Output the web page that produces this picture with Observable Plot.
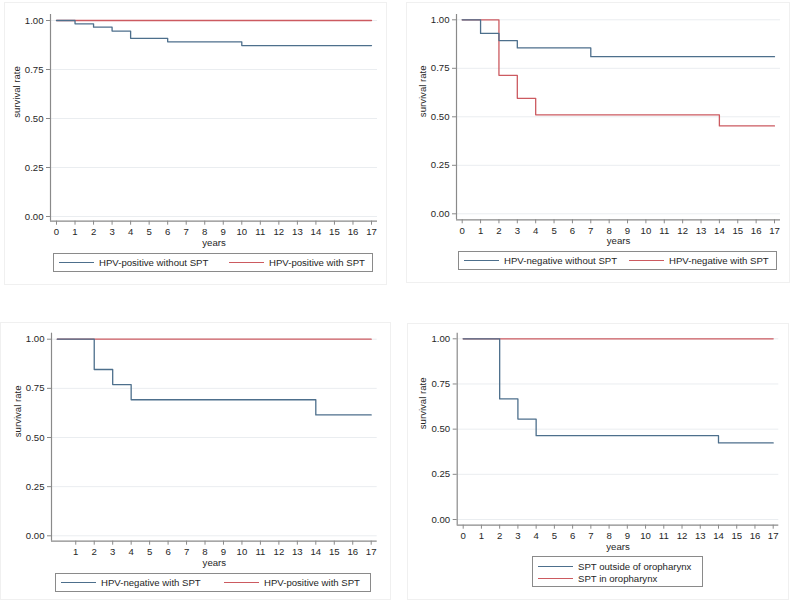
<!DOCTYPE html>
<html>
<head>
<meta charset="utf-8">
<script src="https://cdn.jsdelivr.net/npm/d3@7"></script>
<script src="https://cdn.jsdelivr.net/npm/@observablehq/plot@0.6"></script>
<style>
  html, body { margin: 0; padding: 0; background: #fff; }
  #root { position: relative; width: 791px; height: 605px; overflow: hidden; font-family: "Liberation Sans", Arial, sans-serif; color: #262626; }
  .frame { position: absolute; border: 1px solid #f0f0f0; box-sizing: border-box; }
  .plot { position: absolute; }
  .legend { position: absolute; border: 1px solid #8a8a8a; box-sizing: border-box; background: #fff; font-size: 9.6px; }
  .item { position: absolute; display: flex; align-items: center; white-space: nowrap; }
  .sw { display: inline-block; width: 35px; height: 0; border-top: 1.3px solid; margin-right: 5px; }
</style>
</head>
<body>
<div id="root"></div>
<script>
// ---------- data ----------
const yearTicks = [0,1,2,3,4,5,6,7,8,9,10,11,12,13,14,15,16,17];
const yearTicksNoZero = [1,2,3,4,5,6,7,8,9,10,11,12,13,14,15,16,17];
const rateTicks = [0, 0.25, 0.5, 0.75, 1];

// Panel 1
const hpvPosWithoutSptTime = [0, 1, 2, 3, 4, 6, 10, 17];
const hpvPosWithoutSptSurv = [1, 0.983, 0.966, 0.946, 0.909, 0.891, 0.872, 0.872];
const hpvPosWithSptTime = [0, 17];
const hpvPosWithSptSurv = [1, 1];

// Panel 2
const hpvNegWithoutSptTime = [0, 1, 2, 3, 7, 17];
const hpvNegWithoutSptSurv = [1, 0.930, 0.893, 0.855, 0.810, 0.810];
const hpvNegWithSptTime = [0, 2, 3, 4, 14, 17];
const hpvNegWithSptSurv = [1, 0.714, 0.595, 0.510, 0.453, 0.453];

// Panel 3
const p3NegWithSptTime = [0, 2, 3, 4, 14, 17];
const p3NegWithSptSurv = [1, 0.846, 0.769, 0.692, 0.615, 0.615];
const p3PosWithSptTime = [0, 17];
const p3PosWithSptSurv = [1, 1];

// Panel 4
const sptOutsideTime = [0, 2, 3, 4, 14, 17];
const sptOutsideSurv = [1, 0.667, 0.556, 0.464, 0.424, 0.424];
const sptInTime = [0, 17];
const sptInSurv = [1, 1];

const panelLegends = [
  ["HPV-positive without SPT", "HPV-positive with SPT"],
  ["HPV-negative without SPT", "HPV-negative with SPT"],
  ["HPV-negative with SPT", "HPV-positive with SPT"],
  ["SPT outside of oropharynx", "SPT in oropharynx"]
];

// ---------- styling / layout ----------
const BLUE = "#4d6f8c";
const RED = "#cc5a60";
const AXIS = "#8a8a8a";
const GRID = "#eaedf0";

function series(times, surv) { return times.map((t, i) => ({t, s: surv[i]})); }

const panels = [
  { svg: {left: 0, top: 0, width: 391, height: 250},
    px: {x0: 56, x17: 371, left: 50, right: 377, y1: 20, y0: 216, top: 14, bottom: 220.7},
    xt: yearTicks,
    a: series(hpvPosWithoutSptTime, hpvPosWithoutSptSurv),
    b: series(hpvPosWithSptTime, hpvPosWithSptSurv),
    legend: {left: 53, top: 253, width: 320, height: 19, col2: 175, rows: false},
    frame: {left: 4, top: 2, width: 383, height: 283} },
  { svg: {left: 395, top: 0, width: 396, height: 250},
    px: {x0: 461.7, x17: 774, left: 456, right: 780, y1: 19.3, y0: 213.3, top: 14, bottom: 219.3},
    xt: yearTicks,
    a: series(hpvNegWithoutSptTime, hpvNegWithoutSptSurv),
    b: series(hpvNegWithSptTime, hpvNegWithSptSurv),
    legend: {left: 458, top: 251, width: 319, height: 19, col2: 170, rows: false},
    frame: {left: 406, top: 2, width: 384, height: 281} },
  { svg: {left: 0, top: 300, width: 391, height: 260},
    px: {x0: 56.8, x17: 370.7, left: 51, right: 376.7, y1: 338.7, y0: 535.3, top: 332.7, bottom: 540.7},
    xt: yearTicksNoZero,
    a: series(p3NegWithSptTime, p3NegWithSptSurv),
    b: series(p3PosWithSptTime, p3PosWithSptSurv),
    legend: {left: 55, top: 573, width: 316, height: 19, col2: 168, rows: false},
    frame: {left: 0, top: 322, width: 391, height: 278} },
  { svg: {left: 395, top: 300, width: 396, height: 250},
    px: {x0: 462.7, x17: 772.7, left: 456.7, right: 778.3, y1: 338.3, y0: 519, top: 332.7, bottom: 524.7},
    xt: yearTicks,
    a: series(sptOutsideTime, sptOutsideSurv),
    b: series(sptInTime, sptInSurv),
    legend: {left: 532, top: 556, width: 171, height: 31, col2: 0, rows: true},
    frame: {left: 407, top: 323, width: 382, height: 277} }
];

const root = document.getElementById("root");

panels.forEach((p, idx) => {
  const fr = document.createElement("div");
  fr.className = "frame";
  Object.assign(fr.style, {left: p.frame.left + "px", top: p.frame.top + "px", width: p.frame.width + "px", height: p.frame.height + "px"});
  root.appendChild(fr);

  const s = p.svg, q = p.px;
  const pxPerYear = (q.x17 - q.x0) / 17;
  const xmin = (q.left - q.x0) / pxPerYear;
  const xmax = 17 + (q.right - q.x17) / pxPerYear;
  const pxPerUnit = q.y0 - q.y1;
  const ymax = 1 + (q.y1 - q.top) / pxPerUnit;
  const ymin = -(q.bottom - q.y0) / pxPerUnit;

  const chart = Plot.plot({
    width: s.width,
    height: s.height,
    marginLeft: q.left - s.left,
    marginRight: s.left + s.width - q.right,
    marginTop: q.top - s.top,
    marginBottom: s.top + s.height - q.bottom,
    style: {fontSize: "9.6px", fontFamily: "'Liberation Sans', Arial, sans-serif", color: "#262626", background: "transparent", overflow: "visible"},
    x: {domain: [xmin, xmax], axis: null},
    y: {domain: [ymin, ymax], axis: null},
    marks: [
      Plot.gridY(rateTicks, {stroke: GRID, strokeOpacity: 1}),
      Plot.ruleX([xmin], {stroke: AXIS, strokeWidth: 1.2}),
      Plot.ruleY([ymin], {stroke: AXIS, strokeWidth: 1.2}),
      Plot.axisY(rateTicks, {anchor: "left", tickSize: 4, tickPadding: 3, stroke: AXIS, fill: "#262626", tickFormat: d => d.toFixed(2), label: null}),
      Plot.axisX(p.xt, {anchor: "bottom", tickSize: 4, tickPadding: 3, stroke: AXIS, fill: "#262626", tickFormat: d => String(d), label: null}),
      Plot.text(["years"], {frameAnchor: "bottom", dy: 21.5, text: d => d, lineAnchor: "middle", fill: "#262626"}),
      Plot.text(["survival rate"], {frameAnchor: "left", dx: -34, rotate: -90, text: d => d, lineAnchor: "middle", fill: "#262626"}),
      Plot.line(p.b, {x: "t", y: "s", stroke: RED, strokeWidth: 1.3, curve: "step-after"}),
      Plot.line(p.a, {x: "t", y: "s", stroke: BLUE, strokeWidth: 1.3, curve: "step-after"})
    ]
  });
  const wrap = document.createElement("div");
  wrap.className = "plot";
  wrap.style.left = s.left + "px";
  wrap.style.top = s.top + "px";
  wrap.appendChild(chart);
  root.appendChild(wrap);

  // legend
  const L = p.legend;
  const lg = document.createElement("div");
  lg.className = "legend";
  Object.assign(lg.style, {left: L.left + "px", top: L.top + "px", width: L.width + "px", height: L.height + "px"});
  const labels = panelLegends[idx];
  const colors = [BLUE, RED];
  labels.forEach((lab, i) => {
    const it = document.createElement("div");
    it.className = "item";
    if (L.rows) {
      it.style.left = "5px";
      it.style.top = (i === 0 ? 3 : 15.5) + "px";
      it.style.height = "12px";
    } else {
      it.style.left = (i === 0 ? 5 : L.col2) + "px";
      it.style.top = "0px";
      it.style.height = (L.height - 2) + "px";
    }
    const sw = document.createElement("span");
    sw.className = "sw";
    sw.style.borderTopColor = colors[i];
    const tx = document.createElement("span");
    tx.textContent = lab;
    it.appendChild(sw);
    it.appendChild(tx);
    lg.appendChild(it);
  });
  root.appendChild(lg);
});
</script>
</body>
</html>
